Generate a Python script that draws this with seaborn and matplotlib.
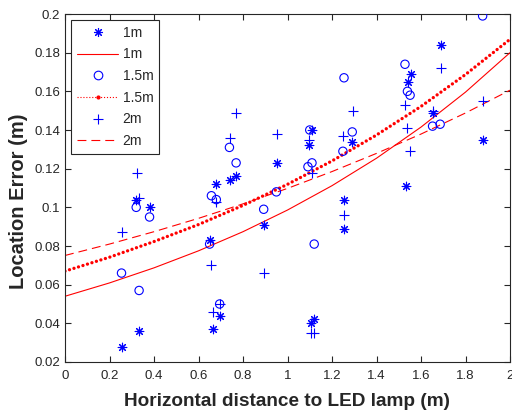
import numpy as np
import pandas as pd
import matplotlib
matplotlib.use("Agg")
import matplotlib.pyplot as plt
import seaborn as sns
from matplotlib.lines import Line2D
from matplotlib.ticker import FuncFormatter

# ---- data: measured points ----
x_1m = [0.255, 0.333, 0.32, 0.383, 0.653, 0.664, 0.695, 0.68, 0.74, 0.769, 0.893, 0.953,
        1.096, 1.11, 1.104, 1.12, 1.254, 1.254, 1.291, 1.532, 1.542, 1.554, 1.656, 1.689, 1.877]
y_1m = [0.028, 0.036, 0.104, 0.100, 0.083, 0.037, 0.044, 0.112, 0.114, 0.116, 0.091, 0.123,
        0.132, 0.140, 0.040, 0.042, 0.104, 0.089, 0.134, 0.111, 0.165, 0.169, 0.149, 0.184, 0.135]

x_15m = [0.254, 0.333, 0.32, 0.38, 0.65, 0.658, 0.68, 0.695, 0.739, 0.769, 0.893, 0.95,
         1.092, 1.10, 1.11, 1.12, 1.249, 1.254, 1.291, 1.528, 1.539, 1.551, 1.652, 1.686, 1.877]
y_15m = [0.066, 0.057, 0.100, 0.095, 0.081, 0.106, 0.104, 0.050, 0.131, 0.123, 0.099, 0.108,
         0.121, 0.140, 0.123, 0.081, 0.129, 0.167, 0.139, 0.174, 0.160, 0.158, 0.142, 0.143, 0.199]

x_2m = [0.255, 0.323, 0.333, 0.658, 0.664, 0.68, 0.695, 0.74, 0.769, 0.893, 0.953, 1.096,
        1.104, 1.11, 1.12, 1.249, 1.254, 1.296, 1.528, 1.539, 1.551, 1.656, 1.689, 1.877]
y_2m = [0.087, 0.118, 0.105, 0.070, 0.046, 0.103, 0.050, 0.136, 0.149, 0.066, 0.138, 0.135,
        0.035, 0.118, 0.035, 0.137, 0.096, 0.150, 0.153, 0.141, 0.129, 0.150, 0.172, 0.155]

# ---- fitted curves, values ----
fit_x = [0.0, 0.2, 0.4, 0.6, 0.8, 1.0, 1.2, 1.4, 1.6, 1.8, 2.0]
fit_1m = [0.0540, 0.0609, 0.0687, 0.0775, 0.0874, 0.0986, 0.1112, 0.1254, 0.1415, 0.1596, 0.1800]
fit_15m = [0.0670, 0.0742, 0.0823, 0.0911, 0.1010, 0.1119, 0.1240, 0.1374, 0.1522, 0.1687, 0.1869]
fit_2m = [0.0751, 0.0810, 0.0874, 0.0943, 0.1018, 0.1098, 0.1185, 0.1279, 0.1379, 0.1488, 0.1606]

x_ticks = [0, 0.2, 0.4, 0.6, 0.8, 1.0, 1.2, 1.4, 1.6, 1.8, 2.0]
y_ticks = [0.02, 0.04, 0.06, 0.08, 0.10, 0.12, 0.14, 0.16, 0.18, 0.20]
legend_labels = ["1m", "1m", "1.5m", "1.5m", "2m", "2m"]

sns.set_style("white")
plt.rcParams["font.family"] = ["Liberation Sans", "DejaVu Sans"]

fig = plt.figure(figsize=(5.12, 4.12), dpi=100)
ax = fig.add_axes([65 / 512, 1 - 362 / 412, 445 / 512, 348 / 412])

BLUE = (0, 0, 1)
RED = (1, 0, 0)
ASTER = (8, 2, 0)

sns.scatterplot(x=x_1m, y=y_1m, ax=ax, marker=ASTER, s=38, color=BLUE,
                edgecolor=BLUE, linewidth=0.8, zorder=3)
sns.scatterplot(x=x_15m, y=y_15m, ax=ax, marker="o", s=36, facecolor="none",
                edgecolor=BLUE, linewidth=0.8, zorder=3)
sns.scatterplot(x=x_2m, y=y_2m, ax=ax, marker="+", s=48, color=BLUE,
                edgecolor=BLUE, linewidth=0.8, zorder=3)

sns.lineplot(x=fit_x, y=fit_1m, ax=ax, color=RED, linewidth=0.8, zorder=2)
sns.lineplot(x=fit_x, y=fit_15m, ax=ax, color=RED, linewidth=2.4,
             linestyle=(0, (0.01, 1.4)), dash_capstyle="round", zorder=2)
sns.lineplot(x=fit_x, y=fit_2m, ax=ax, color=RED, linewidth=0.8,
             linestyle=(0, (8, 4.5)), zorder=2)

ax.set_xlim(0, 2)
ax.set_ylim(0.02, 0.2)
ax.set_xticks(x_ticks)
ax.set_yticks(y_ticks)
fmt = FuncFormatter(lambda v, p: f"{v:g}")
ax.xaxis.set_major_formatter(fmt)
ax.yaxis.set_major_formatter(fmt)

dark = (0.15, 0.15, 0.15)
for sp in ax.spines.values():
    sp.set_visible(True)
    sp.set_color(dark)
    sp.set_linewidth(0.8)
ax.tick_params(direction="in", length=4, width=0.8, colors=dark, labelsize=9.5,
               top=True, right=True, bottom=True, left=True, labelcolor=dark)
ax.tick_params(axis="x", pad=6)

ax.set_xlabel("Horizontal distance to LED lamp (m)", fontsize=13.7, fontweight="bold",
              color=dark, labelpad=8)
ax.set_ylabel("Location Error (m)", fontsize=14.5, fontweight="bold", color=dark)
ax.yaxis.set_label_coords(-0.083, 0.463)

handles = [
    Line2D([], [], color=BLUE, marker=ASTER, linestyle="none", markersize=6.5, markeredgewidth=0.8),
    Line2D([], [], color=RED, linewidth=0.8),
    Line2D([], [], color=BLUE, marker="o", linestyle="none", markersize=6.2,
           markerfacecolor="none", markeredgewidth=0.8),
    Line2D([], [], color=RED, linestyle=":", linewidth=0.8, marker=".", markersize=4),
    Line2D([], [], color=BLUE, marker="+", linestyle="none", markersize=7, markeredgewidth=0.8),
    Line2D([], [], color=RED, linestyle=(0, (8, 4.5)), linewidth=0.8),
]
leg = ax.legend(handles, legend_labels, loc="upper left", fontsize=10,
                handlelength=3.0, handletextpad=0.3, labelspacing=0.55,
                borderpad=0.4, borderaxespad=0.45, fancybox=False, framealpha=1,
                edgecolor=dark)
leg.get_frame().set_linewidth(0.8)

fig.savefig("out.png", dpi=100)
